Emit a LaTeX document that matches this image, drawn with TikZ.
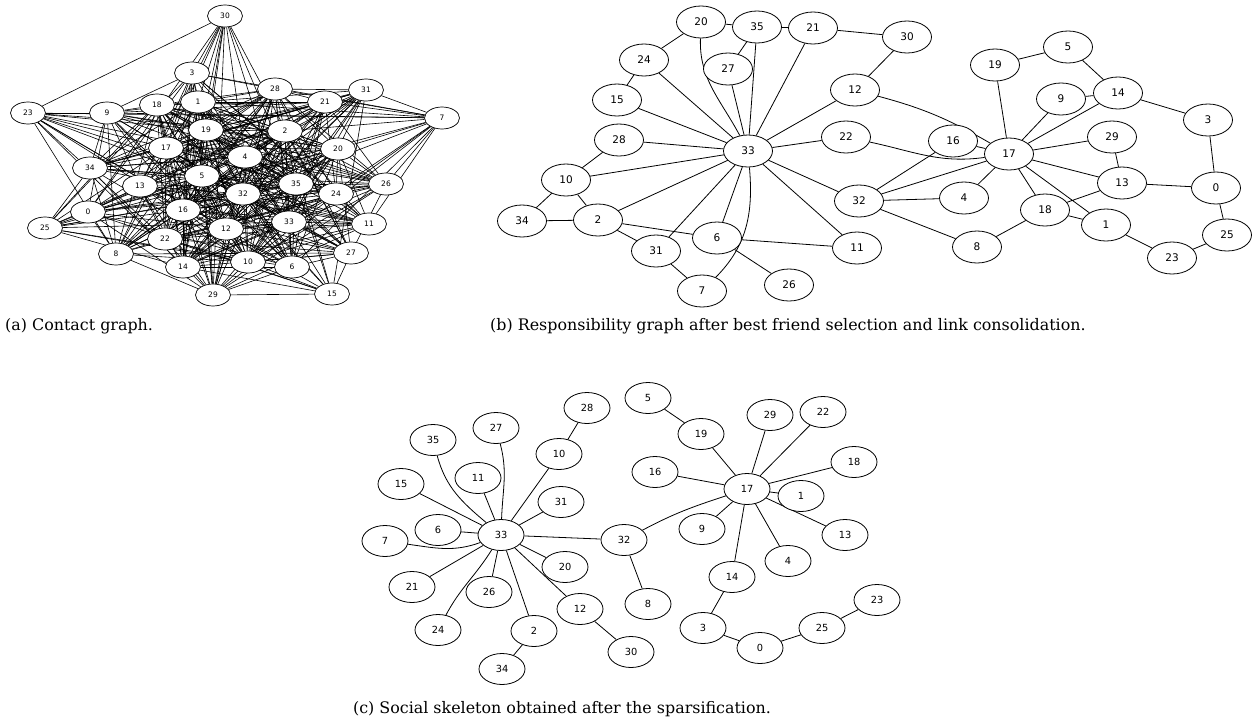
\documentclass[tikz,border=0pt]{standalone}
\usepackage{fontspec}
\newfontfamily\labfont{DejaVu Sans}
\newfontfamily\capfont{DejaVu Serif}
\usetikzlibrary{shapes.geometric,backgrounds}
\begin{document}
\begin{tikzpicture}[x=1pt,y=-1pt,
 anode/.style={ellipse,draw,fill=white,line width=0.7pt,minimum width=35pt,minimum height=22pt,inner sep=0pt,font=\labfont\fontsize{7.5}{9}\selectfont},
 bnode/.style={ellipse,draw,fill=white,line width=0.8pt,minimum width=49pt,minimum height=32pt,inner sep=0pt,font=\labfont\fontsize{10.5}{12}\selectfont},
 cnode/.style={ellipse,draw,fill=white,line width=0.8pt,minimum width=46pt,minimum height=31pt,inner sep=0pt,font=\labfont\fontsize{9.8}{12}\selectfont},
 aedge/.style={line width=0.6pt},
 gedge/.style={line width=0.8pt},
 captext/.style={font=\capfont\fontsize{15.9}{19}\selectfont,anchor=base west,inner sep=0pt}]
\useasboundingbox (0,0) rectangle (1256,720);

% ---------- (a) contact graph ----------
\foreach \n/\x/\y in {30/225/16,3/192/73,23/28/113,9/107/113,18/157/105,1/198/102,19/206/130,17/166/148,
  28/275/89,21/325/102,31/366/90,7/442/118,2/285/131,20/338/149,4/245/157,
  34/90/168,13/140/186,5/202/176,0/88/212,16/183/210,25/45/228,22/165/239,12/226/229,8/116/254,14/183/267,29/213/295,
  32/243/194,35/296/184,24/336/194,26/386/184,33/289/222,11/369/224,27/351/253,10/248/262,6/292/267,15/332/294}
  \node[anode] (a\n) at (\x,\y) {\n};
\begin{pgfonlayer}{background}
\pgfmathsetseed{11}
\def\wt{{0.7,0.9,0.9,0.7,0.9,0.9,0.85,0.55,0.7,0.7,0.85,0.75,0.9,0.85,0.8,0.6,0.9,0.9,0.8,0.9,0.85,0.8,0.85,0.55,0.85,0.6,0.75,0.75,0.8,0.6,0.55,0.7,0.9,0.9,0.75,0.9}}
\foreach \i in {0,...,34}{
  \pgfmathtruncatemacro\ip{\i+1}
  \foreach \j in {\ip,...,35}{
    \pgfmathsetmacro\pp{\wt[\i]*\wt[\j]}
    \pgfmathsetmacro\rr{rnd}
    \ifdim\rr pt<\pp pt \draw[aedge] (a\i) -- (a\j);\fi
  }}
\end{pgfonlayer}

% ---------- (b) responsibility graph ----------
\foreach \n/\x/\y in {20/701/22,35/757/27,21/813/28,24/644/60,27/728/69,15/617/100,12/855/90,28/619/140,33/748/151,
  22/846/137,10/566/180,34/522/221,2/598/220,32/859/201,6/717/238,31/656/251,11/857/248,7/702/291,26/789/285,
  30/907/37,19/995/65,5/1068/47,9/1061/99,14/1118/93,3/1208/120,16/953/141,17/1009/154,29/1112/137,13/1122/183,
  0/1216/188,4/964/198,18/1045/210,1/1106/225,8/977/247,25/1227/235,23/1172/258}
  \node[bnode] (b\n) at (\x,\y) {\n};
\begin{pgfonlayer}{background}
\draw[gedge] (b20)--(b35) (b35)--(b21) (b21)--(b30) (b20)--(b24) (b24)--(b15) (b35)--(b27)
 (b33)--(b35) (b33)--(b27) (b33)--(b21) (b33)--(b24) (b33)--(b15) (b33)--(b28) (b33)--(b10) (b33)--(b2)
 (b33)--(b31) (b33)--(b6) (b33)--(b11) (b33)--(b32) (b33)--(b22) (b33)--(b12)
 (b10)--(b28) (b10)--(b34) (b10)--(b2) (b34)--(b2) (b2)--(b6) (b2)--(b31) (b31)--(b7) (b6)--(b11) (b6)--(b26)
 (b12)--(b30) (b32)--(b16) (b32)--(b17) (b32)--(b4) (b32)--(b8)
 (b17)--(b19) (b17)--(b9) (b17)--(b14) (b17)--(b29) (b17)--(b13) (b17)--(b1) (b17)--(b18) (b17)--(b4) (b17)--(b16)
 (b19)--(b5) (b5)--(b14) (b9)--(b14) (b14)--(b3) (b3)--(b0) (b0)--(b13) (b13)--(b29) (b13)--(b18)
 (b18)--(b8) (b18)--(b1) (b1)--(b23) (b23)--(b25) (b25)--(b0);
\draw[gedge] (b20) to[out=-92,in=118] (b33);
\draw[gedge] (b33) to[out=-85,in=45] (b7);
\draw[gedge] (b12) to[out=-15,in=150] (b17);
\draw[gedge] (b22) to[out=-12,in=188] (b17);
\end{pgfonlayer}

% ---------- (c) social skeleton ----------
\foreach \n/\x/\y in {28/587/408,27/496/428,35/433/440,10/559/454,11/478/478,15/401/484,31/561/502,6/438/530,
  33/501/535,7/385/541,32/624/540,20/565/567,21/412/587,26/489/592,12/580/609,8/648/604,24/438/630,2/534/631,
  30/631/652,34/502/669,5/648/398,29/770/415,22/823/412,19/701/434,18/854/462,16/655/472,17/747/489,1/801/496,
  9/702/529,13/845/535,4/788/561,14/732/577,23/877/600,3/703/628,25/822/628,0/760/648}
  \node[cnode] (c\n) at (\x,\y) {\n};
\begin{pgfonlayer}{background}
\draw[gedge] (c33)--(c11) (c33)--(c10) (c33)--(c31) (c33)--(c15) (c33)--(c6) (c33)--(c21) (c33)--(c26)
 (c33)--(c2) (c33)--(c12) (c33)--(c20) (c33)--(c32)
 (c10)--(c28) (c2)--(c34) (c12)--(c30) (c32)--(c8)
 (c17)--(c19) (c17)--(c16) (c17)--(c29) (c17)--(c22) (c17)--(c18) (c17)--(c1) (c17)--(c13) (c17)--(c4)
 (c17)--(c14) (c17)--(c9)
 (c19)--(c5) (c14)--(c3) (c3)--(c0) (c0)--(c25) (c25)--(c23);
\draw[gedge] (c33) to[out=88,in=-75] (c27);
\draw[gedge] (c35) to[out=-75,in=140] (c33);
\draw[gedge] (c7) to[out=-8,in=200] (c33);
\draw[gedge] (c33) to[out=238,in=62] (c24);
\draw[gedge] (c32) to[out=28,in=198] (c17);
\end{pgfonlayer}

% ---------- captions ----------
\node[captext] (capa) at (5,330) {(a) Contact graph.};
\node[captext] (capb) at (490,330) {(b) Responsibility graph after best friend selection and link consolidation.};
\node[captext,anchor=base] (capc) at (562,713) {(c) Social skeleton obtained after the sparsification.};
\end{tikzpicture}
\end{document}
